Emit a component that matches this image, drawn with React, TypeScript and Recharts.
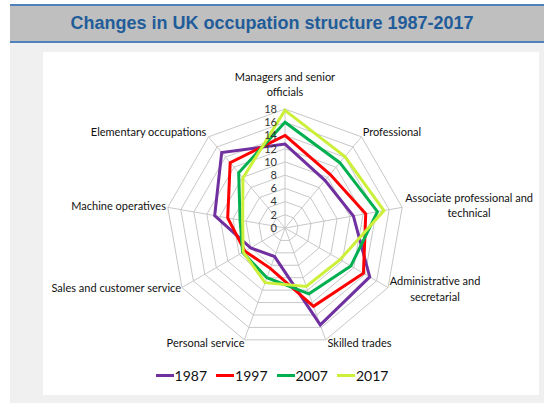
import React from 'react';
import {
  RadarChart,
  Radar,
  PolarGrid,
  PolarAngleAxis,
  PolarRadiusAxis,
  Legend,
} from 'recharts';

// occupation groups, clockwise from the top
const categories = [
  'Managers and senior officials',
  'Professional',
  'Associate professional and technical',
  'Administrative and secretarial',
  'Skilled trades',
  'Personal service',
  'Sales and customer service',
  'Machine operatives',
  'Elementary occupations',
];

const years = ['1987', '1997', '2007', '2017'];

const values1987 = [12.7, 9.4, 10.5, 14.8, 15.6, 4.6, 6.0, 10.8, 14.9];
const values1997 = [14.0, 10.6, 12.4, 13.7, 12.6, 6.5, 7.0, 8.8, 12.9];
const values2007 = [16.0, 12.9, 14.2, 11.5, 10.6, 8.0, 7.4, 6.9, 10.9];
const values2017 = [17.8, 14.1, 15.2, 9.6, 9.4, 8.8, 7.3, 6.5, 9.9];

const radiusTicks = [0, 2, 4, 6, 8, 10, 12, 14, 16, 18];

const colors = ['#7030a0', '#ff0000', '#00b050', '#ccf03a'];

const data = categories.map((name, i) => ({
  name,
  '1987': values1987[i],
  '1997': values1997[i],
  '2007': values2007[i],
  '2017': values2017[i],
}));

// how each category label is broken and nudged from the tick point
const labelLines: string[][] = [
  ['Managers and senior', 'officials'],
  ['Professional'],
  ['Associate professional and', 'technical'],
  ['Administrative and', 'secretarial'],
  ['Skilled trades'],
  ['Personal service'],
  ['Sales and customer service'],
  ['Machine operatives'],
  ['Elementary occupations'],
];
const labelNudge: { dx: number; dy: number; anchor: string }[] = [
  { dx: 0, dy: -24, anchor: 'middle' },
  { dx: -4, dy: 1, anchor: 'start' },
  { dx: 59, dy: -8, anchor: 'middle' },
  { dx: 40, dy: -10, anchor: 'middle' },
  { dx: -1, dy: -4, anchor: 'start' },
  { dx: 3, dy: -4, anchor: 'end' },
  { dx: 6, dy: -3, anchor: 'end' },
  { dx: 6, dy: 0, anchor: 'end' },
  { dx: 3, dy: 1, anchor: 'end' },
];

const font = 'Lato, "Noto Sans", sans-serif';

const AngleTick = (props: any) => {
  const { x, y, index } = props;
  const lines = labelLines[index] || [props.payload.value];
  const n = labelNudge[index];
  return (
    <text
      x={x + n.dx}
      y={y + n.dy}
      textAnchor={n.anchor}
      fontFamily={font}
      fontSize={11}
      fill="#111"
    >
      {lines.map((l, i) => (
        <tspan key={i} x={x + n.dx} dy={i === 0 ? '0.35em' : 15.5}>
          {l}
        </tspan>
      ))}
    </text>
  );
};

const RadiusTick = (props: any) => {
  const { x, y, payload } = props;
  return (
    <text
      x={x - 8}
      y={y}
      dy="0.35em"
      textAnchor="end"
      fontFamily={font}
      fontSize={11}
      fill="#333"
    >
      {payload.value}
    </text>
  );
};

const renderLegend = () => (
  <div
    style={{
      display: 'flex',
      justifyContent: 'center',
      gap: 9,
      fontFamily: font,
      fontSize: 14,
      color: '#111',
    }}
  >
    {years.map((y, i) => (
      <span key={y} style={{ display: 'flex', alignItems: 'center' }}>
        <span
          style={{
            display: 'inline-block',
            width: 18,
            height: 3,
            background: colors[i],
            marginRight: 1,
          }}
        />
        {y}
      </span>
    ))}
  </div>
);

export default function App() {
  return (
    <div
      style={{
        position: 'absolute',
        left: 0,
        top: 0,
        width: 544,
        height: 403,
        background: '#fff',
        overflow: 'hidden',
      }}
    >
      <div
        style={{
          position: 'absolute',
          left: 10,
          top: 4,
          width: 524,
          height: 35,
          background: '#bfbfbf',
          borderTop: '2px solid #4f81bd',
          borderBottom: '2px solid #4f81bd',
          color: '#1f5c99',
          fontFamily: '"Liberation Sans", Arial, sans-serif',
          fontWeight: 'bold',
          fontSize: 18,
          lineHeight: '35px',
          textAlign: 'center',
          paddingRight: 10,
          boxSizing: 'content-box',
        }}
      >
        Changes in UK occupation structure 1987-2017
      </div>
      <div
        style={{
          position: 'absolute',
          left: 10,
          top: 43,
          width: 534,
          height: 360,
          background: '#f0f0f0',
        }}
      />
      <div
        style={{
          position: 'absolute',
          left: 43,
          top: 52,
          width: 496,
          height: 343,
          background: '#fff',
        }}
      />
      <div style={{ position: 'absolute', left: 0, top: 0 }}>
        <RadarChart
          width={544}
          height={403}
          data={data}
          cx={285}
          cy={228}
          outerRadius={119}
          margin={{ top: 0, right: 0, bottom: 0, left: 0 }}
        >
          <PolarGrid gridType="polygon" stroke="#c8c8c8" strokeWidth={1} />
          <PolarAngleAxis
            dataKey="name"
            tick={<AngleTick />}
            tickLine={false}
            axisLine={false}
          />
          <PolarRadiusAxis
            angle={90}
            domain={[0, 18]}
            ticks={radiusTicks}
            tickCount={10}
            axisLine={false}
            tick={<RadiusTick />}
          />
          {years.map((y, i) => (
            <Radar
              key={y}
              name={y}
              dataKey={y}
              stroke={colors[i]}
              strokeWidth={3}
              fill="none"
              fillOpacity={0}
              dot={false}
              isAnimationActive={false}
            />
          ))}
          <Legend
            content={renderLegend}
            wrapperStyle={{ top: 367, left: 0, width: 544 }}
          />
        </RadarChart>
      </div>
    </div>
  );
}
